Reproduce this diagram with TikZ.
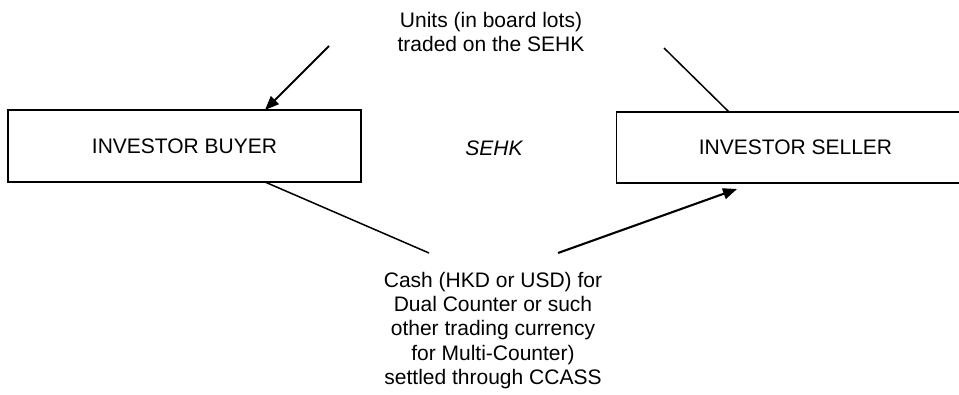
\documentclass[tikz,border=0pt]{standalone}
\usepackage{fontspec}
\setmainfont{Liberation Sans}
\usetikzlibrary{arrows.meta}
\begin{document}
\begin{tikzpicture}[x=1pt,y=-1pt,
  every node/.style={font=\fontsize{21}{24.2}\selectfont},
  box/.style={draw=black,line width=1.5pt,rectangle,inner sep=0pt},
  lbl/.style={align=center,inner sep=0pt,anchor=north},
  plainline/.style={draw=black,line width=1.5pt},
  arrowline/.style={draw=black,line width=2.1pt,-{Triangle[length=14pt,width=11pt]}}]
\useasboundingbox (0,0) rectangle (959,394);
\clip (0,0) rectangle (959,394);
\node[box,minimum width=353pt,minimum height=72pt] (buyer) at (184.5,146) {INVESTOR BUYER};
\node[box,minimum width=358pt,minimum height=71pt] (seller) at (795.5,147.5) {INVESTOR SELLER};
\node[inner sep=0pt,anchor=base] (sehk) at (494,155) {\itshape SEHK};
\node[lbl] (units) at (491,12) {Units (in board lots)\\traded on the SEHK};
\node[lbl] (cash) at (493,272) {Cash (HKD or USD) for\\Dual Counter or such\\other trading currency\\for Multi-Counter)\\settled through CCASS};
\coordinate (ua) at (329,46);
\coordinate (ub) at (664,48);
\coordinate (ca) at (429,253);
\coordinate (cb) at (558,253);
\coordinate (bt) at (265,110);
\coordinate (bb) at (265,182);
\coordinate (st) at (729,112);
\coordinate (sb) at (737,189);
\draw[arrowline] (ua) -- (bt);
\draw[plainline] (ub) -- (st);
\draw[plainline] (bb) -- (ca);
\draw[arrowline] (cb) -- (sb);
\end{tikzpicture}
\end{document}
